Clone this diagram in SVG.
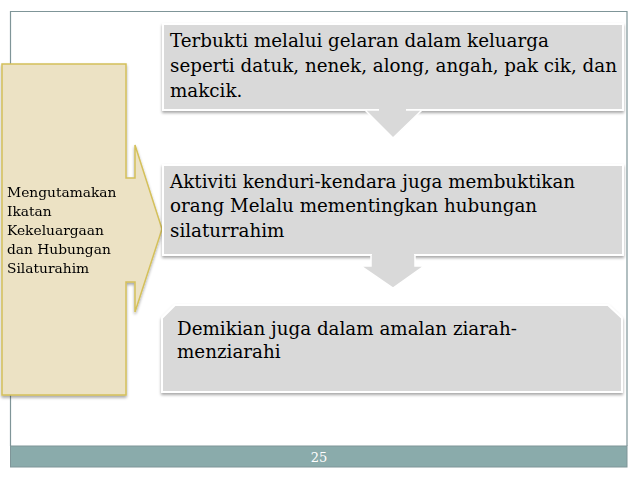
<svg xmlns="http://www.w3.org/2000/svg" width="638" height="479" viewBox="0 0 638 479">
<defs>
<filter id="sh" x="-5%" y="-10%" width="110%" height="125%">
<feGaussianBlur in="SourceAlpha" stdDeviation="1.5"/>
<feOffset dx="0" dy="2" result="b"/>
<feComponentTransfer><feFuncA type="linear" slope="0.35"/></feComponentTransfer>
<feMerge><feMergeNode/><feMergeNode in="SourceGraphic"/></feMerge>
</filter>
<style>
.frame{fill:none;stroke:#7f9598;stroke-width:1.2}
.box{fill:#d9d9d9;stroke:#ffffff;stroke-width:2}
.arr{fill:#d9d9d9;stroke:#ffffff;stroke-width:1.5}
.call{fill:#ece2c4;stroke:#d4c05a;stroke-width:1.5}
.t{font-family:"DejaVu Serif","Liberation Serif",serif;font-size:18.3px;fill:#000}
.ts{font-family:"DejaVu Serif","Liberation Serif",serif;font-size:13.8px;fill:#000}
.pg{font-family:"DejaVu Serif","Liberation Serif",serif;font-size:13px;fill:#ffffff}
</style>
</defs>
<g id="frame">
<path class="frame" d="M10.5,446 V11.5 H627 V446"/>
<rect x="10.5" y="446" width="616.5" height="21" fill="#8aabab" stroke="#7f9598" stroke-width="1"/>
<text class="pg" x="319" y="462" text-anchor="middle">25</text>
</g>
<g id="callout" filter="url(#sh)">
<path class="call" d="M2,64 H126 V178 H135 V145 L162,229 L135,312 V282 H126 V395 H2 Z"/>
<text class="ts" x="7" y="197">Mengutamakan</text>
<text class="ts" x="7" y="216">Ikatan</text>
<text class="ts" x="7" y="235">Kekeluargaan</text>
<text class="ts" x="7" y="254">dan Hubungan</text>
<text class="ts" x="7" y="273">Silaturahim</text>
</g>
<g id="box1">
<rect class="box" x="163" y="24" width="460" height="86" filter="url(#sh)"/>
<text class="t" x="170" y="47">Terbukti melalui gelaran dalam keluarga</text>
<text class="t" x="170" y="72">seperti datuk, nenek, along, angah, pak cik, dan</text>
<text class="t" x="170" y="97">makcik.</text>
</g>
<g id="box2">
<rect class="box" x="163" y="165" width="460" height="90" filter="url(#sh)"/>
<text class="t" x="170" y="188">Aktiviti kenduri-kendara juga membuktikan</text>
<text class="t" x="170" y="212">orang Melalu mementingkan hubungan</text>
<text class="t" x="170" y="237">silaturrahim</text>
</g>
<g id="connectors">
<path class="arr" d="M365,110 L393,138 L422,110 Z"/>
<rect x="379" y="106" width="27" height="5" fill="#d9d9d9"/>
<path class="arr" d="M371,255 V266 H361 L393,288 L424,266 H415 V255"/>
<rect x="372" y="252" width="42" height="6" fill="#d9d9d9"/>
</g>
<g id="box3">
<path class="box" d="M175,305 H608 L622,318 V392 H162 V318 Z" filter="url(#sh)"/>
<text class="t" x="177" y="335">Demikian juga dalam amalan ziarah-</text>
<text class="t" x="177" y="358">menziarahi</text>
</g>
</svg>
